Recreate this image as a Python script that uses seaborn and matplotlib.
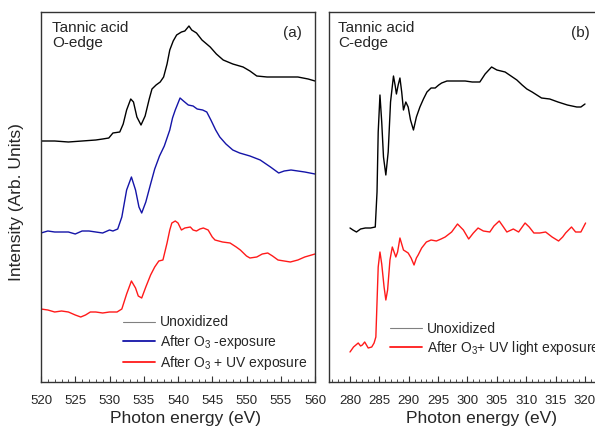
import numpy as np
import pandas as pd
import matplotlib
matplotlib.use("Agg")
import matplotlib.pyplot as plt
from matplotlib.lines import Line2D
from matplotlib.ticker import MultipleLocator
import seaborn as sns

# ---- O K-edge spectra (panel a) ----
o_unox_e = [520.0, 522.0, 524.0, 526.0, 528.0, 529.0, 529.9, 530.5, 531.5, 532.0, 532.5, 533.1,
            533.5, 534.0, 534.6, 535.2, 535.8, 536.2, 536.8, 537.4, 537.9, 538.4, 538.8, 539.3,
            539.8, 540.5, 541.0, 541.6, 542.0, 542.7, 543.5, 544.7, 545.6, 546.6, 548.0, 549.5,
            550.5, 551.5, 553.0, 555.4, 557.5, 559.0, 560.0]
o_unox_i = [241, 241, 240, 241, 242, 243, 244, 249, 250, 258, 272, 283,
            280, 265, 257, 266, 283, 293, 297, 300, 305, 318, 332, 341,
            347, 350, 351, 356, 352, 349, 342, 335, 328, 322, 318, 315,
            311, 306, 305, 305, 305, 303, 301]

o_o3_e = [520.0, 521.0, 522.0, 523.0, 524.0, 525.0, 526.0, 527.0, 528.0, 529.0, 530.0, 530.5,
          531.2, 531.8, 532.5, 533.2, 533.8, 534.3, 534.7, 535.3, 536.0, 536.6, 537.3, 538.0,
          538.3, 538.8, 539.2, 539.6, 540.3, 540.8, 541.5, 542.2, 542.8, 543.6, 544.2, 544.8,
          545.5, 546.1, 547.0, 548.0, 549.0, 550.5, 552.0, 553.5, 554.7, 555.5, 556.5, 557.5,
          558.5, 560.0]
o_o3_i = [149, 151, 150, 150, 150, 148, 151, 151, 150, 149, 152, 151,
          153, 165, 192, 205, 192, 175, 169, 180, 198, 213, 226, 236,
          242, 252, 264, 272, 284, 281, 277, 276, 273, 272, 270, 262,
          252, 245, 238, 232, 229, 226, 222, 215, 209, 211, 212, 211,
          210, 208]

o_uv_e = [520.0, 521.0, 522.0, 523.0, 524.0, 525.0, 525.8, 526.5, 527.2, 528.0, 529.0, 530.0,
          531.1, 531.8, 532.5, 533.2, 533.8, 534.2, 534.7, 535.3, 536.0, 536.6, 537.2, 537.8,
          538.4, 538.8, 539.1, 539.6, 540.0, 540.5, 541.0, 541.8, 542.2, 542.7, 543.2, 543.7,
          544.4, 545.0, 545.4, 546.5, 547.6, 548.5, 549.1, 550.0, 550.5, 551.5, 552.3, 553.1,
          553.8, 554.6, 556.4, 557.5, 558.5, 560.0]
o_uv_i = [73, 72, 70, 71, 70, 67, 65, 67, 70, 70, 69, 70,
          70, 73, 88, 101, 94, 86, 84, 95, 107, 115, 121, 122,
          139, 152, 159, 161, 159, 152, 154, 155, 152, 151, 153, 154,
          152, 145, 142, 140, 139, 135, 132, 126, 124, 125, 128, 129,
          126, 122, 120, 122, 125, 128]

# ---- C K-edge spectra (panel b) ----
c_unox_e = [280.0, 280.5, 281.1, 281.8, 282.6, 283.5, 284.3, 284.6, 284.8, 285.1, 285.4, 285.7,
            286.1, 286.5, 286.9, 287.4, 287.7, 287.9, 288.2, 288.5, 288.8, 289.1, 289.5, 289.9,
            290.3, 290.8, 291.3, 291.9, 292.5, 293.1, 293.8, 294.5, 295.1, 295.6, 296.5, 297.3,
            298.5, 299.6, 300.8, 302.1, 303.0, 304.1, 305.0, 306.4, 307.4, 308.4, 309.3, 310.1,
            311.0, 312.6, 314.0, 315.4, 317.0, 318.6, 319.3, 320.0]
c_unox_i = [154, 152, 150, 153, 154, 154, 155, 190, 250, 287, 260, 225,
            207, 230, 280, 306, 296, 288, 297, 304, 290, 272, 280, 275,
            262, 252, 265, 275, 283, 290, 294, 294, 297, 299, 301, 301,
            301, 301, 300, 300, 308, 315, 312, 310, 306, 302, 297, 293,
            290, 284, 283, 280, 277, 275, 275, 278]

c_uv_e = [280.0, 280.6, 281.4, 281.8, 282.1, 282.5, 283.1, 283.7, 284.1, 284.4, 284.6, 284.8,
          285.1, 285.4, 285.8, 286.1, 286.4, 286.8, 287.2, 287.8, 288.1, 288.5, 289.1, 289.9,
          290.4, 290.9, 291.3, 291.6, 292.2, 293.0, 293.8, 294.7, 295.5, 296.2, 297.3, 298.3,
          299.3, 300.2, 301.0, 301.8, 302.7, 303.8, 304.5, 305.4, 306.0, 306.7, 307.8, 308.7,
          309.8, 310.5, 311.3, 312.3, 313.3, 314.4, 315.5, 316.2, 316.7, 317.7, 318.4, 319.3,
          320.1]
c_uv_i = [30, 35, 39, 36, 37, 40, 34, 35, 39, 45, 80, 115,
          130, 118, 95, 82, 92, 122, 135, 125, 130, 144, 132, 129,
          124, 117, 124, 127, 134, 140, 142, 141, 143, 145, 150, 158,
          152, 143, 149, 154, 151, 150, 156, 161, 156, 150, 153, 150,
          159, 155, 149, 149, 150, 145, 141, 145, 149, 155, 150, 150,
          159]

legend_a = ["Unoxidized", "After O$_3$ -exposure", "After O$_3$ + UV exposure"]
legend_b = ["Unoxidized", "After O$_3$+ UV light exposure"]

sns.set_style("ticks")
plt.rcParams["font.family"] = ["Liberation Sans", "DejaVu Sans"]
plt.rcParams["mathtext.fontset"] = "custom"
plt.rcParams["mathtext.rm"] = "Liberation Sans"
plt.rcParams["mathtext.it"] = "Liberation Sans:italic"

W, H = 595, 430
fig = plt.figure(figsize=(W / 100, H / 100), dpi=100)


def box(x0, x1, y0, y1):
    return [x0 / W, 1 - y1 / H, (x1 - x0) / W, (y1 - y0) / H]


ax_a = fig.add_axes(box(41, 315, 12, 382))
ax_b = fig.add_axes(box(329, 603, 12, 382))

BLACK, BLUE, RED, GRAY = "#000000", "#1414a8", "#ff1a1a", "#808080"
LW = 1.0


def spectrum(ax, e, i, color):
    df = pd.DataFrame({"energy": e, "intensity": i})
    sns.lineplot(data=df, x="energy", y="intensity", ax=ax, color=color,
                 lw=LW, estimator=None, sort=False)


spectrum(ax_a, o_unox_e, o_unox_i, BLACK)
spectrum(ax_a, o_o3_e, o_o3_i, BLUE)
spectrum(ax_a, o_uv_e, o_uv_i, RED)
spectrum(ax_b, c_unox_e, c_unox_i, BLACK)
spectrum(ax_b, c_uv_e, c_uv_i, RED)

ax_a.set_xlim(520, 560)
ax_b.set_xlim(280 - 21 / 5.875, 280 + 253 / 5.875)

for ax in (ax_a, ax_b):
    ax.set_ylim(0, 370)
    ax.set_yticks([])
    ax.set_ylabel("")
    ax.set_xlabel("Photon energy (eV)", fontsize=12.5)
    ax.xaxis.set_major_locator(MultipleLocator(5))
    ax.xaxis.set_minor_locator(MultipleLocator(1))
    ax.tick_params(axis="x", which="major", direction="in", length=4, width=0.8,
                   labelsize=9.5, pad=9, color="#333333")
    ax.tick_params(axis="x", which="minor", direction="in", length=2, width=0.6,
                   color="#333333")
    for s in ax.spines.values():
        s.set_visible(True)
        s.set_color("#333333")
        s.set_linewidth(1.0)

ax_b.set_xticks([280, 285, 290, 295, 300, 305, 310, 315, 320])
ax_a.xaxis.set_label_coords(0.526, -0.078)
ax_b.xaxis.set_label_coords(0.555, -0.078)

ax_a.text(0.04, 0.975, "Tannic acid\nO-edge", transform=ax_a.transAxes,
          ha="left", va="top", fontsize=11, linespacing=1.1)
ax_b.text(0.033, 0.975, "Tannic acid\nC-edge", transform=ax_b.transAxes,
          ha="left", va="top", fontsize=11, linespacing=1.1)
ax_a.text(0.916, 0.943, "(a)", transform=ax_a.transAxes, ha="center",
          va="center", fontsize=11)
ax_b.text(0.916, 0.943, "(b)", transform=ax_b.transAxes, ha="center",
          va="center", fontsize=11)

fig.text(17 / W, 1 - 202 / H, "Intensity (Arb. Units)", rotation=90,
         ha="center", va="center", fontsize=12.5)

handles_a = [Line2D([], [], color=GRAY, lw=0.8),
             Line2D([], [], color=BLUE, lw=1.3),
             Line2D([], [], color=RED, lw=1.3)]
ax_a.legend(handles_a, legend_a, loc="upper left", bbox_to_anchor=(0.299, 0.18),
            frameon=False, fontsize=10, handlelength=2.3, handletextpad=0.35,
            labelspacing=0.25, borderpad=0, borderaxespad=0)

handles_b = [Line2D([], [], color=GRAY, lw=0.8),
             Line2D([], [], color=RED, lw=1.3)]
ax_b.legend(handles_b, legend_b, loc="upper left", bbox_to_anchor=(0.223, 0.163),
            frameon=False, fontsize=10, handlelength=2.3, handletextpad=0.35,
            labelspacing=0.25, borderpad=0, borderaxespad=0)

fig.savefig("out.png", dpi=100)
